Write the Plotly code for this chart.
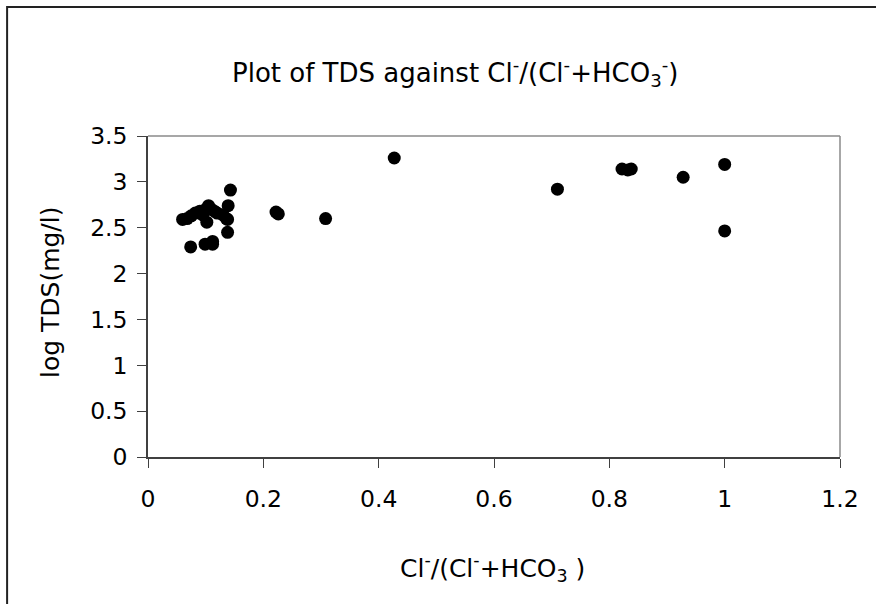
import plotly.graph_objects as go

# Data
cl_ratio = [0.060, 0.068, 0.075, 0.082, 0.090, 0.095, 0.100, 0.105, 0.110, 0.115,
            0.120, 0.130, 0.136, 0.102, 0.139, 0.138, 0.138, 0.143, 0.074, 0.099,
            0.112, 0.112, 0.222, 0.226, 0.308, 0.427, 0.710, 0.822, 0.832, 0.838,
            0.928, 1.000, 1.000]
log_tds = [2.59, 2.60, 2.63, 2.66, 2.68, 2.64, 2.70, 2.74, 2.70, 2.68,
           2.66, 2.64, 2.60, 2.56, 2.74, 2.59, 2.45, 2.91, 2.29, 2.32,
           2.35, 2.32, 2.67, 2.65, 2.60, 3.26, 2.92, 3.14, 3.13, 3.14,
           3.05, 3.19, 2.465]

x_ticks = [0, 0.2, 0.4, 0.6, 0.8, 1.0, 1.2]
x_tick_labels = ["0", "0.2", "0.4", "0.6", "0.8", "1", "1.2"]
y_ticks = [0, 0.5, 1, 1.5, 2, 2.5, 3, 3.5]
y_tick_labels = ["0", "0.5", "1", "1.5", "2", "2.5", "3", "3.5"]

title_text = "Plot of TDS against Cl<sup>-</sup>/(Cl<sup>-</sup>+HCO<sub>3</sub><sup>-</sup>)"
x_title = "Cl<sup>-</sup>/(Cl<sup>-</sup>+HCO<sub>3</sub> )"
y_title = "log TDS(mg/l)"

FONT = "DejaVu Sans, Liberation Sans, Arial, sans-serif"

fig = go.Figure()
fig.add_trace(go.Scatter(
    x=cl_ratio, y=log_tds, mode="markers",
    marker=dict(color="black", size=13, line=dict(width=0)),
    showlegend=False,
))

L, R, T, B = 148, 35.5, 136, 147
W, H = 876, 604
pw, ph = W - L - R, H - T - B

def px_x(px):
    return (px - L) / pw

def px_y(py):
    return (H - B - py) / ph

fig.update_layout(
    width=W, height=H,
    margin=dict(l=L, r=R, t=T, b=B, autoexpand=False),
    paper_bgcolor="white", plot_bgcolor="white",
    font=dict(family=FONT, size=23, color="black"),
    xaxis=dict(
        range=[0, 1.2], tickvals=x_ticks, ticktext=x_tick_labels,
        showgrid=False, zeroline=False,
        showline=True, linecolor="#404040", linewidth=1.5,
        ticks="outside", ticklen=9, tickcolor="#404040", tickwidth=1.2,
        ticklabelstandoff=11,
        tickfont=dict(size=23.5, family=FONT), fixedrange=True,
    ),
    yaxis=dict(
        range=[0, 3.5], tickvals=y_ticks, ticktext=y_tick_labels,
        showgrid=False, zeroline=False,
        showline=True, linecolor="#404040", linewidth=1.5,
        ticks="outside", ticklen=9, tickcolor="#404040", tickwidth=1.2,
        ticklabelstandoff=5,
        tickfont=dict(size=23.5, family=FONT), fixedrange=True,
    ),
    shapes=[
        # gray top/right plot border
        dict(type="line", xref="paper", yref="paper", x0=0, x1=1, y0=1, y1=1,
             line=dict(color="#8a8a8a", width=1.5)),
        dict(type="line", xref="paper", yref="paper", x0=1, x1=1, y0=0, y1=1,
             line=dict(color="#8a8a8a", width=1.5)),
        # outer chart border (extends beyond visible window)
        dict(type="rect", xref="paper", yref="paper",
             x0=px_x(7), x1=px_x(890), y0=px_y(620), y1=px_y(7),
             line=dict(color="#222222", width=2)),
    ],
    annotations=[
        dict(text=title_text, xref="paper", yref="paper",
             x=px_x(455), y=px_y(72), xanchor="center", yanchor="middle",
             showarrow=False, font=dict(size=26, family=FONT)),
        dict(text=x_title, xref="paper", yref="paper",
             x=px_x(493), y=px_y(568), xanchor="center", yanchor="middle",
             showarrow=False, font=dict(size=25, family=FONT)),
        dict(text=y_title, xref="paper", yref="paper",
             x=px_x(50), y=px_y(292), xanchor="center", yanchor="middle",
             textangle=-90, showarrow=False, font=dict(size=25, family=FONT)),
    ],
)

fig.write_html("out.html")
